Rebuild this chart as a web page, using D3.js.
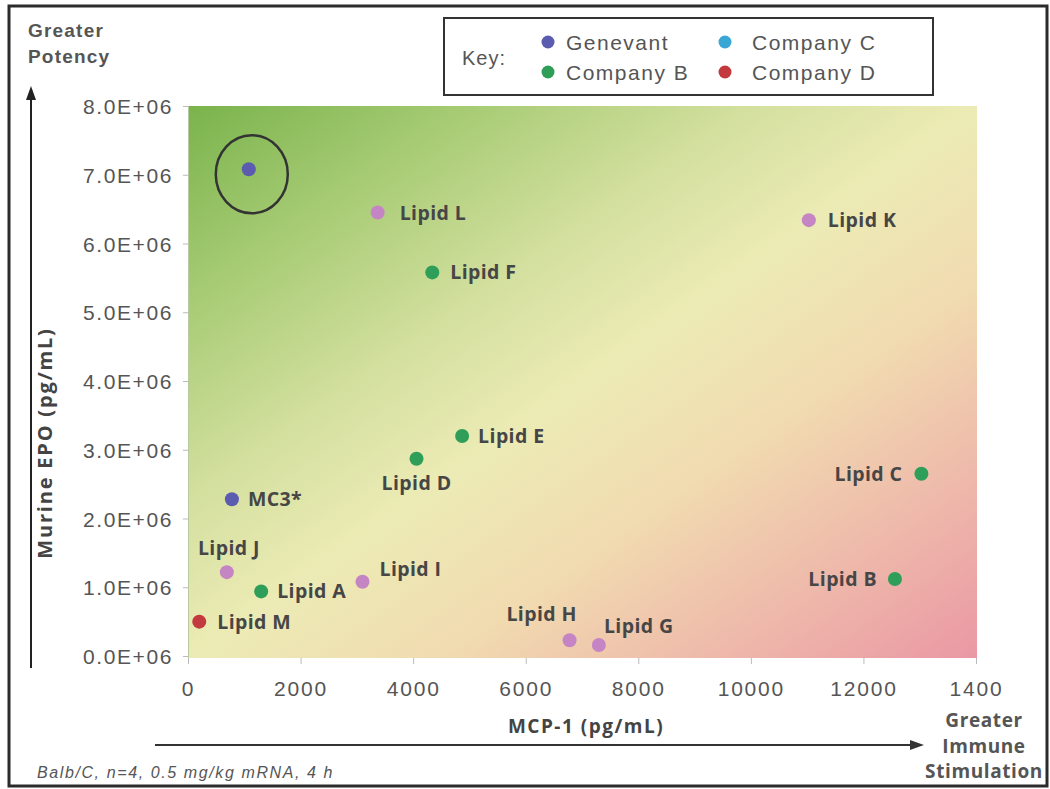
<!DOCTYPE html>
<html>
<head>
<meta charset="utf-8">
<script src="https://cdn.jsdelivr.net/npm/d3@7"></script>
<style>
  html, body { margin: 0; padding: 0; background: #fff; }
  svg { display: block; }
</style>
</head>
<body>
<svg id="chart" width="1050" height="789"></svg>
<script>
// ---------------- DATA ----------------
const lipidNames = ["Genevant", "Lipid L", "Lipid F", "Lipid K", "Lipid E", "Lipid D", "Lipid C",
                    "MC3*", "Lipid J", "Lipid A", "Lipid I", "Lipid M", "Lipid B", "Lipid H", "Lipid G"];
const mcp1Values = [1080, 3370, 4340, 11030, 4870, 4060, 13030, 780, 690, 1300, 3100, 200, 12560, 6780, 7300];
const epoValues = [7.08e6, 6.45e6, 5.58e6, 6.34e6, 3.20e6, 2.87e6, 2.65e6, 2.28e6, 1.22e6, 0.94e6, 1.08e6, 0.50e6, 1.12e6, 0.23e6, 0.16e6];
const companyOf = ["Genevant", "Other", "Company B", "Other", "Company B", "Company B", "Company B",
                   "Genevant", "Other", "Company B", "Other", "Company D", "Company B", "Other", "Other"];
const showLabel = [false, true, true, true, true, true, true, true, true, true, true, true, true, true, true];

const legendKeys = ["Genevant", "Company B", "Company C", "Company D"];
const xTickValues = [0, 2000, 4000, 6000, 8000, 10000, 12000, 14000];
const xTickLabels = ["0", "2000", "4000", "6000", "8000", "10000", "12000", "1400"];
const yTickValues = [0, 1e6, 2e6, 3e6, 4e6, 5e6, 6e6, 7e6, 8e6];
const yTickLabels = ["0.0E+06", "1.0E+06", "2.0E+06", "3.0E+06", "4.0E+06", "5.0E+06", "6.0E+06", "7.0E+06", "8.0E+06"];

// ---------------- STYLE / LAYOUT ----------------
const colors = {
  "Genevant": "#5b5bb0",
  "Company B": "#2e9e58",
  "Company C": "#3aa6d6",
  "Company D": "#c23a3e",
  "Other": "#c585c4"
};
// label placement: [dx, dy, anchor]
const labelLayout = {
  "Lipid L": [22, 0, "start"],
  "Lipid F": [18, 0, "start"],
  "Lipid K": [19, 0, "start"],
  "Lipid E": [16, 0, "start"],
  "Lipid D": [0, 24, "middle"],
  "Lipid C": [-19, 0, "end"],
  "MC3*":    [16, 0, "start"],
  "Lipid J": [2, -24, "middle"],
  "Lipid A": [16, 0, "start"],
  "Lipid I": [17, -13, "start"],
  "Lipid M": [18, 0, "start"],
  "Lipid B": [-18, 0, "end"],
  "Lipid H": [-28, -26, "middle"],
  "Lipid G": [5, -19, "start"]
};

const svg = d3.select("#chart");
const plot = { left: 188, right: 977, top: 106, bottom: 658 };

const x = d3.scaleLinear().domain([0, 14000]).range([188, 976]);
const y = d3.scaleLinear().domain([0, 8e6]).range([656, 106]);

const defs = svg.append("defs");
const grad = defs.append("linearGradient").attr("id", "bg")
  .attr("x1", 0).attr("y1", 0).attr("x2", 1).attr("y2", 1);
[[0, "#7ab34c"], [0.16, "#a2c970"], [0.36, "#d4e09f"], [0.5, "#ecebb5"], [0.66, "#f1dbb0"], [0.84, "#eeb7aa"], [1, "#ea98a4"]]
  .forEach(([o, c]) => grad.append("stop").attr("offset", o).attr("stop-color", c));

// outer frame
svg.append("rect").attr("x", 9).attr("y", 6).attr("width", 1038).attr("height", 780)
  .attr("fill", "#fff").attr("stroke", "#2b2b2b").attr("stroke-width", 3);

// plot background
svg.append("rect").attr("x", plot.left).attr("y", plot.top)
  .attr("width", plot.right - plot.left).attr("height", plot.bottom - plot.top)
  .attr("fill", "url(#bg)");
svg.append("line").attr("x1", plot.left + 0.5).attr("x2", plot.left + 0.5)
  .attr("y1", plot.top).attr("y2", plot.bottom).attr("stroke", "#b9c9a0").attr("stroke-width", 1);

const tickFont = "'Liberation Sans', Arial, sans-serif";
const boldFont = "'Open Sans', 'Liberation Sans', sans-serif";

// x axis
const xAxis = d3.axisBottom(x).tickValues(xTickValues)
  .tickFormat((d, i) => xTickLabels[i]).tickSize(6).tickPadding(17);
const gx = svg.append("g").attr("transform", `translate(0,${plot.bottom})`).call(xAxis);
gx.select(".domain").remove();
gx.selectAll(".tick line").attr("stroke", "#bbb");
gx.selectAll(".tick text").attr("fill", "#555").attr("font-size", 21)
  .attr("font-family", tickFont).style("letter-spacing", "1.8px");

// y axis
const yAxis = d3.axisLeft(y).tickValues(yTickValues)
  .tickFormat((d, i) => yTickLabels[i]).tickSize(5).tickPadding(10);
const gy = svg.append("g").attr("transform", `translate(${plot.left},0)`).call(yAxis);
gy.select(".domain").remove();
gy.selectAll(".tick line").attr("stroke", "#bbb");
gy.selectAll(".tick text").attr("fill", "#555").attr("font-size", 21)
  .attr("font-family", tickFont).style("letter-spacing", "1.6px").attr("dy", "0.36em");

// axis titles
svg.append("text").attr("transform", "translate(52,443) rotate(-90)")
  .attr("text-anchor", "middle").attr("font-family", boldFont).attr("font-weight", 700)
  .attr("font-size", 20).attr("fill", "#444").style("letter-spacing", "1.8px").text("Murine EPO (pg/mL)");
svg.append("text").attr("x", 586).attr("y", 733)
  .attr("text-anchor", "middle").attr("font-family", boldFont).attr("font-weight", 700)
  .attr("font-size", 19).attr("fill", "#444").style("letter-spacing", "1.5px").text("MCP-1 (pg/mL)");

// Greater Potency
const gp = svg.append("text").attr("font-family", tickFont).attr("font-weight", 700)
  .attr("font-size", 19).attr("fill", "#555").style("letter-spacing", "1.2px");
gp.append("tspan").attr("x", 28).attr("y", 37).text("Greater");
gp.append("tspan").attr("x", 28).attr("y", 63).text("Potency");

// Greater Immune Stimulation
const gis = svg.append("text").attr("font-family", boldFont).attr("font-weight", 700)
  .attr("font-size", 19).attr("fill", "#555").attr("text-anchor", "middle").style("letter-spacing", "0.6px");
["Greater", "Immune", "Stimulation"].forEach((t, i) =>
  gis.append("tspan").attr("x", 984).attr("y", 727 + i * 25.5).text(t));

// arrows
svg.append("line").attr("x1", 31).attr("x2", 31).attr("y1", 668).attr("y2", 96)
  .attr("stroke", "#222").attr("stroke-width", 2);
svg.append("path").attr("d", "M31,86 L26,100 L36,100 Z").attr("fill", "#222");
svg.append("line").attr("x1", 155).attr("x2", 912).attr("y1", 745).attr("y2", 745)
  .attr("stroke", "#333").attr("stroke-width", 2);
svg.append("path").attr("d", "M924,745 L910,740 L910,750 Z").attr("fill", "#333");

// footnote
svg.append("text").attr("x", 37).attr("y", 778).attr("font-family", tickFont)
  .attr("font-style", "italic").attr("font-size", 16).attr("fill", "#555")
  .style("letter-spacing", "1.6px").text("Balb/C, n=4, 0.5 mg/kg mRNA, 4 h");

// legend
const lg = svg.append("g");
lg.append("rect").attr("x", 444).attr("y", 18).attr("width", 489).attr("height", 77)
  .attr("fill", "#fff").attr("stroke", "#333").attr("stroke-width", 2);
lg.append("text").attr("x", 462).attr("y", 65).attr("font-family", tickFont)
  .attr("font-size", 20).attr("fill", "#555").style("letter-spacing", "1px").text("Key:");
const legendPos = [[548, 42], [548, 72], [725, 42], [725, 72]];
legendKeys.forEach((k, i) => {
  const [lx, ly] = legendPos[i];
  lg.append("circle").attr("cx", lx).attr("cy", ly).attr("r", 6.5).attr("fill", colors[k]);
  lg.append("text").attr("x", lx + (i < 2 ? 18 : 27)).attr("y", ly + 8)
    .attr("font-family", tickFont).attr("font-size", 21).attr("fill", "#555")
    .style("letter-spacing", "1.5px").text(k);
});

// points
const pts = lipidNames.map((n, i) => ({ name: n, mcp: mcp1Values[i], epo: epoValues[i], co: companyOf[i], lab: showLabel[i] }));

svg.append("g").selectAll("circle").data(pts).join("circle")
  .attr("cx", d => x(d.mcp)).attr("cy", d => y(d.epo)).attr("r", 7)
  .attr("fill", d => colors[d.co]);

svg.append("g").selectAll("text").data(pts.filter(d => d.lab)).join("text")
  .attr("x", d => x(d.mcp) + labelLayout[d.name][0])
  .attr("y", d => y(d.epo) + labelLayout[d.name][1])
  .attr("dy", "0.36em")
  .attr("text-anchor", d => labelLayout[d.name][2])
  .attr("font-family", boldFont).attr("font-weight", 700).attr("font-size", 19.5)
  .attr("fill", "#464646").style("letter-spacing", "0.4px")
  .text(d => d.name);

// ellipse around Genevant lead
svg.append("ellipse")
  .attr("cx", x(mcp1Values[0]) + 3).attr("cy", y(epoValues[0]) + 5)
  .attr("rx", 36).attr("ry", 39)
  .attr("fill", "none").attr("stroke", "#333").attr("stroke-width", 2.5);
</script>
</body>
</html>
